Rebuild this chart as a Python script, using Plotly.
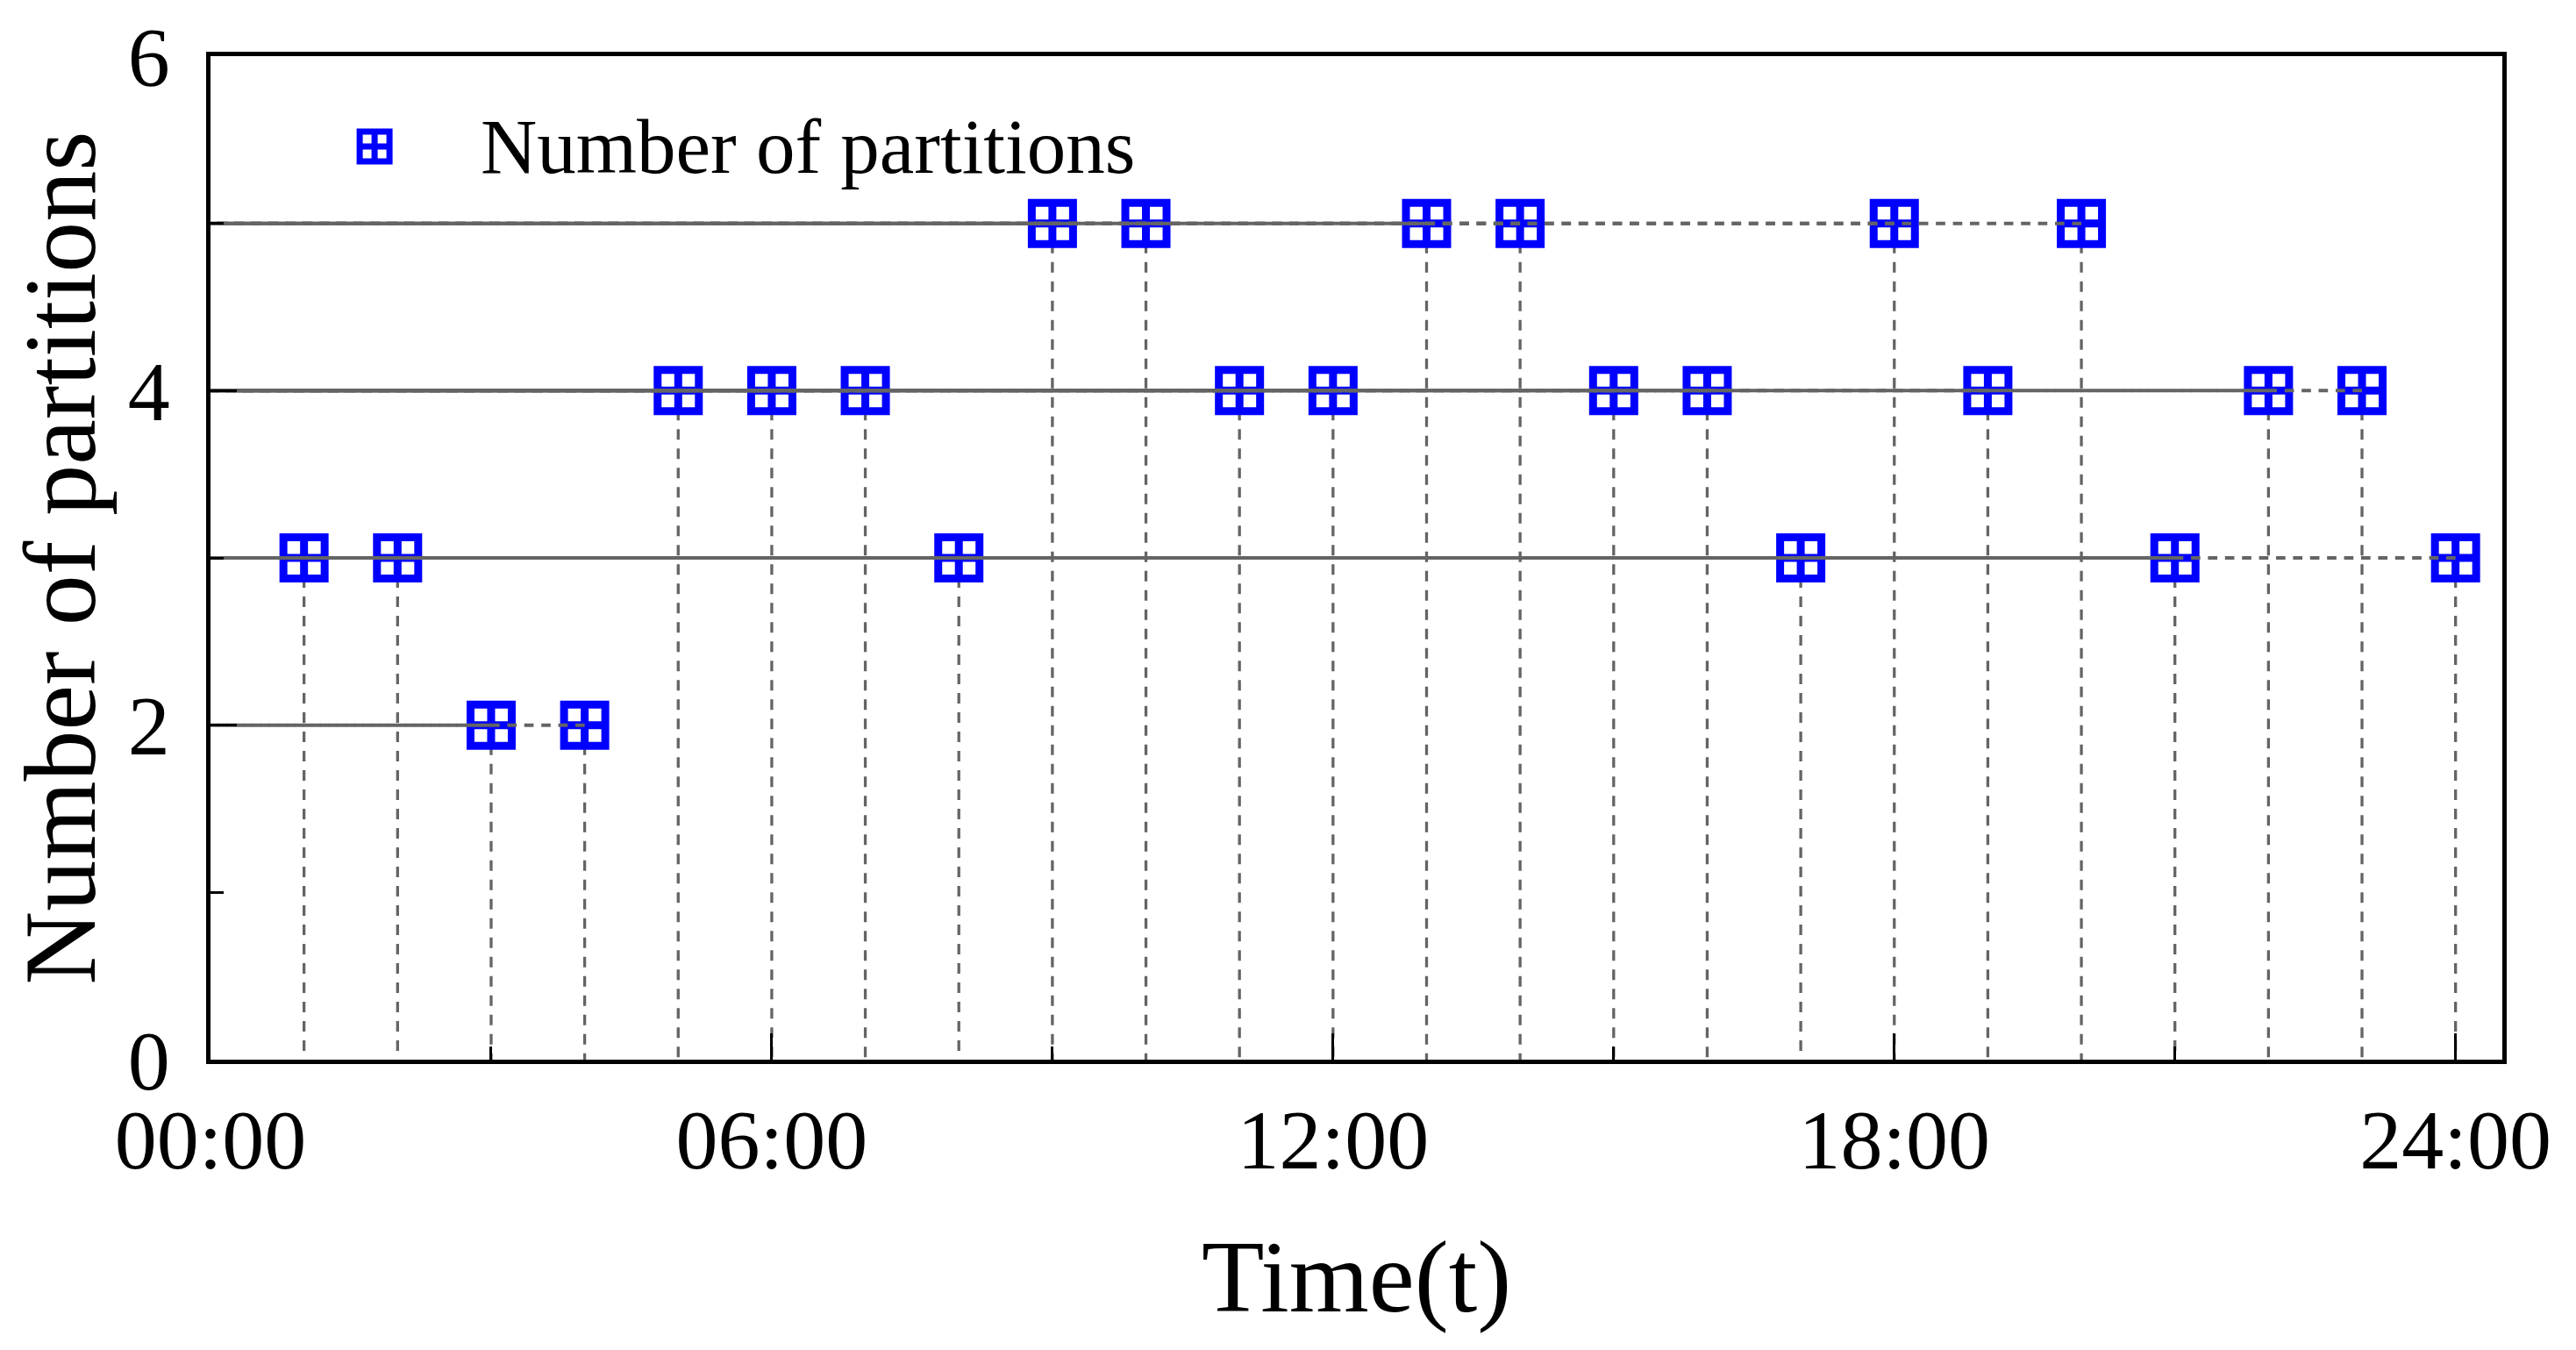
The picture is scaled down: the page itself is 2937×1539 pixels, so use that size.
import plotly.graph_objects as go

# data
hours = list(range(1, 25))
partitions = [3, 3, 2, 2, 4, 4, 4, 3, 5, 5, 4, 4, 5, 5, 4, 4, 3, 5, 4, 5, 3, 4, 4, 3]
x_tick_vals = [0, 6, 12, 18, 24]
x_tick_text = ["00:00", "06:00", "12:00", "18:00", "24:00"]
x_minor_vals = [3, 9, 15, 21]
y_tick_vals = [0, 2, 4, 6]
y_minor_vals = [1, 3, 5]
series_name = "Number of partitions"

W, H = 2937, 1539
ML, MR, MT, MB = 240, 84, 62, 331
X_MAX = 24.5
FONT = "Liberation Serif"
GRAY = "#646464"
BLUE = "#0000ff"

# dash period chosen so points one hour apart give dashes in anti-phase
px_per_hour = (W - ML - MR) / X_MAX
period = px_per_hour / 5.5
h_dash = "%.2fpx,%.2fpx" % (period * 0.55, period * 0.45)

fig = go.Figure()

# vertical drop lines to the time axis
for h, p in zip(hours, partitions):
    fig.add_trace(go.Scatter(
        x=[h, h], y=[p, 0], mode="lines", showlegend=False, hoverinfo="skip",
        line=dict(color=GRAY, width=3.3, dash="12px,10px"),
    ))

# the points
fig.add_trace(go.Scatter(
    x=hours, y=partitions, mode="markers", name=series_name, showlegend=False,
    marker=dict(symbol="square-cross", size=47, color="white",
                line=dict(color=BLUE, width=9)),
))

# horizontal lines back to the y axis, drawn from each point
for h, p in zip(hours, partitions):
    fig.add_trace(go.Scatter(
        x=[h, 0], y=[p, p], mode="lines", showlegend=False, hoverinfo="skip",
        line=dict(color=GRAY, width=4, dash=h_dash),
    ))

# hand-made legend key on an overlay axis
fig.add_trace(go.Scatter(
    x=[0.0716], y=[0.910], xaxis="x2", yaxis="y2", mode="markers",
    showlegend=False, hoverinfo="skip",
    marker=dict(symbol="square-cross", size=34, color="white",
                line=dict(color=BLUE, width=7)),
))
fig.add_annotation(
    x=0.117, y=0.910, xref="paper", yref="paper", xanchor="left", yanchor="middle",
    text=series_name, showarrow=False, font=dict(family=FONT, size=89, color="black"),
)

axis_common = dict(
    showgrid=False, zeroline=False, showline=True, linecolor="black", linewidth=5,
    mirror=True, ticks="inside", ticklen=30, tickwidth=3, tickcolor="black",
    tickfont=dict(family=FONT, size=96, color="black"),
)

fig.update_layout(
    width=W, height=H,
    margin=dict(l=ML, r=MR, t=MT, b=MB),
    plot_bgcolor="white", paper_bgcolor="white",
    showlegend=False,
    xaxis=dict(
        range=[0, X_MAX], tickmode="array", tickvals=x_tick_vals, ticktext=x_tick_text,
        minor=dict(tickmode="array", tickvals=x_minor_vals, ticks="inside",
                   ticklen=15, tickwidth=3, tickcolor="black"),
        ticklabelstandoff=4,
        title=dict(text="Time(t)", font=dict(family=FONT, size=117, color="black"), standoff=62),
        **axis_common,
    ),
    yaxis=dict(
        range=[0, 6], tickmode="array", tickvals=y_tick_vals,
        minor=dict(tickmode="array", tickvals=y_minor_vals, ticks="inside",
                   ticklen=15, tickwidth=3, tickcolor="black"),
        ticklabelstandoff=22,
        title=dict(text="Number of partitions", font=dict(family=FONT, size=116, color="black"), standoff=0),
        **axis_common,
    ),
    xaxis2=dict(overlaying="x", range=[0, 1], visible=False),
    yaxis2=dict(overlaying="y", range=[0, 1], visible=False),
)

fig.write_html("out.html", config={"displayModeBar": False},
               post_script="document.body.style.margin='0';")
